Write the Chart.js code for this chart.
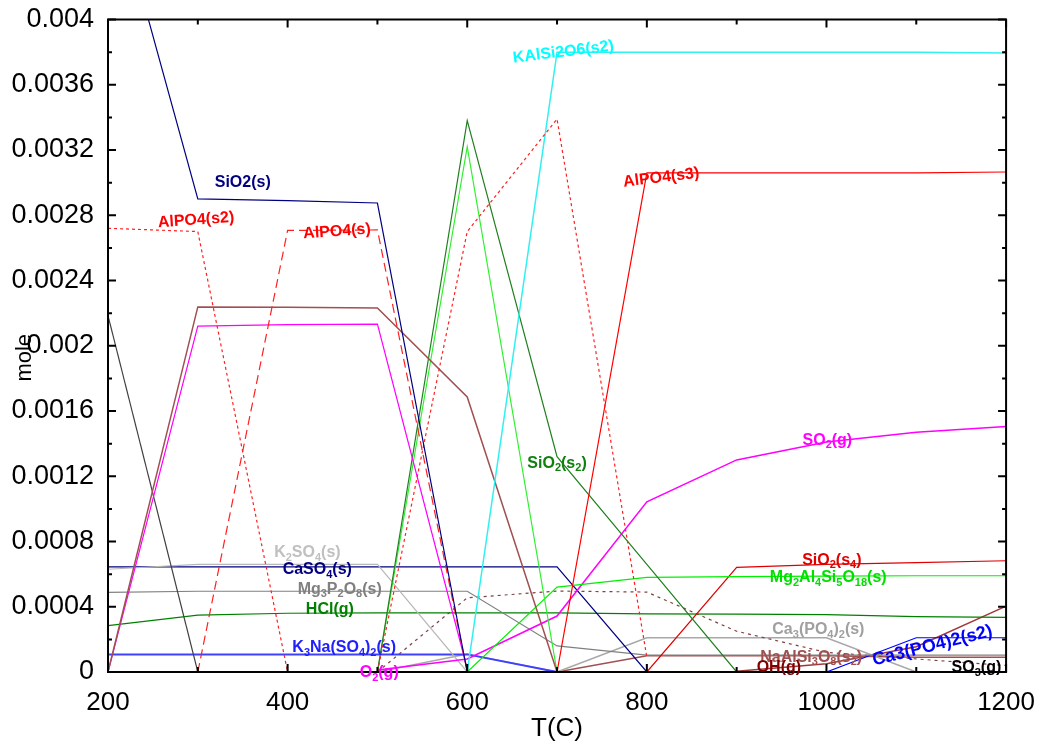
<!DOCTYPE html>
<html>
<head>
<meta charset="utf-8">
<script src="https://cdn.jsdelivr.net/npm/chart.js@4.4.1/dist/chart.umd.min.js"></script>
<style>
  html, body { margin: 0; padding: 0; background: #fff; }
  #chart { display: block; }
</style>
</head>
<body>
<canvas id="chart" width="1045" height="744"></canvas>
<script>
// Temperatures (C)
const temps = [200, 300, 400, 500, 600, 700, 800, 900, 1000, 1100, 1200];

// Amounts (mole), null where the phase is absent
const sio2S       = [0.0049, 0.0029, 0.00289, 0.002875, 0, null, null, null, null, null, null];
const alpo4S2     = [0.00272, 0.0027, 0, 0, 0.0027, 0.00339, 0.00009, null, null, null, null];
const alpo4S      = [null, 0, 0.002707, 0.00271, 0, null, null, null, null, null, null];
const alpo4S3     = [null, null, null, null, null, 0, 0.00306, 0.00306, 0.00306, 0.00306, 0.003065];
const kalsi2o6S2  = [null, null, null, null, 0, 0.0038, 0.0038, 0.0038, 0.0038, 0.0038, 0.003795];
const brownPhase  = [0, 0.002238, 0.002236, 0.002232, 0.001686, 0, null, null, null, null, null];
const pinkPhase   = [0, 0.00212, 0.00213, 0.002132, 0.00002, null, null, null, null, null, null];
const greyPhase   = [0.002185, 0, null, null, null, null, null, null, null, null, null];
const sio2S2      = [null, null, null, 0, 0.00338, 0.00132, 0.00066, 0, null, null, null];
const limePhase   = [null, null, null, 0, 0.00322, 0, null, null, null, null, null];
const mg2al4si5   = [null, null, null, null, 0, 0.00052, 0.00058, 0.000585, 0.000588, 0.00059, 0.00059];
const sio2S4      = [null, null, null, null, null, null, 0, 0.000641, 0.00066, 0.00067, 0.000682];
const so2G        = [null, null, null, 0.000012, 0.00008, 0.000343, 0.001043, 0.0013, 0.00141, 0.00147, 0.001505];
const k2so4S      = [0.00063, 0.00066, 0.00066, 0.00066, 0, null, null, null, null, null, null];
const caso4S      = [0.000645, 0.000645, 0.000645, 0.000645, 0.000645, 0.000645, 0, null, null, null, null];
const mg3p2o8S    = [0.000488, 0.000495, 0.000495, 0.000495, 0.000495, 0.00016, 0.000104, 0.000104, 0.000104, 0.000104, 0.000104];
const hclG        = [0.000284, 0.000349, 0.00036, 0.000363, 0.000363, 0.000363, 0.000356, 0.000355, 0.000352, 0.00034, 0.000335];
const k3naSo4S    = [0.000108, 0.000108, 0.000108, 0.000108, 0.000108, 0, null, null, null, null, null];
const so3G        = [null, null, null, 0, 0.000455, 0.000496, 0.00049, 0.00025, 0.00012, 0.00008, 0.00004];
const ca3po4S     = [null, null, null, 0, 0.00011, 0, 0.00021, 0.00021, 0.00021, 0, null];
const ca3po4S2    = [null, null, null, null, null, null, null, null, 0, 0.00021, 0.00021];
const naalsi3o8S2 = [null, null, null, null, null, 0, 0.0001, 0.0001, 0.0001, 0.00009, 0.00009];
const ohG         = [null, null, null, null, null, null, null, 0.000005, 0.00005, 0.000155, 0.000404];

// Axis tick labels
const xTickLabels = ['200', '400', '600', '800', '1000', '1200'];
const yTickLabels = ['0', '0.0004', '0.0008', '0.0012', '0.0016', '0.002', '0.0024', '0.0028', '0.0032', '0.0036', '0.004'];

// In-plot species labels ("_" marks a subscript)
const speciesLabels = [
  { text: 'SiO2(s)', t: 350, v: 0.0030, color: '#000080' },
  { text: 'AlPO4(s2)', t: 298, v: 0.00277, color: '#FF0000', rot: -4 },
  { text: 'AlPO4(s)', t: 455, v: 0.00270, color: '#FF0000', rot: -4 },
  { text: 'KAlSi2O6(s2)', t: 707, v: 0.0038, color: '#00FFFF', rot: -7 },
  { text: 'AlPO4(s3)', t: 816, v: 0.00303, color: '#FF0000', rot: -7 },
  { text: 'SiO_2(s_2)', t: 700, v: 0.00128, color: '#108010' },
  { text: 'SO_2(g)', t: 1001, v: 0.00142, color: '#FF00FF' },
  { text: 'SiO_2(s_4)', t: 1006, v: 0.000686, color: '#E00000' },
  { text: 'Mg_2Al_4Si_5O_18(s)', t: 1002, v: 0.000576, color: '#00E000' },
  { text: 'K_2SO_4(s)', t: 422, v: 0.00073, color: '#C0C0C0' },
  { text: 'CaSO_4(s)', t: 433, v: 0.000625, color: '#000080' },
  { text: 'Mg_3P_2O_8(s)', t: 458, v: 0.000508, color: '#808080' },
  { text: 'HCl(g)', t: 447, v: 0.00038, color: '#008000' },
  { text: 'K_3Na(SO_4)_2(s)', t: 463, v: 0.000147, color: '#2020FF' },
  { text: 'O_2(g)', t: 502, v: -0.000005, color: '#FF00FF' },
  { text: 'Ca_3(PO_4)_2(s)', t: 991, v: 0.000257, color: '#A0A0A0' },
  { text: 'NaAlSi_3O_8(s_2)', t: 983, v: 0.00009, color: '#A05050' },
  { text: 'Ca3(PO4)2(s2)', t: 1118, v: 0.00016, color: '#0000FF', rot: -14, size: 18 },
  { text: 'OH(g)', t: 947, v: 0.00003, color: '#800000' },
  { text: 'SO_3(g)', t: 1167, v: 0.000025, color: '#000000' }
];

const FONT = "'Liberation Sans', Arial, sans-serif";

function line(label, data, color, dash, width) {
  return {
    label: label,
    data: data.map((v, i) => ({ x: temps[i], y: v })),
    borderColor: color,
    borderWidth: width || 1.2,
    borderDash: dash || [],
    pointRadius: 0,
    tension: 0,
    spanGaps: false,
    fill: false
  };
}

// draws "SiO_2(s_2)" style text centred at x,y
function drawRich(ctx, text, x, y, size) {
  const parts = [];
  const re = /_(\d+)|([^_]+)/g;
  let m;
  while ((m = re.exec(text)) !== null) {
    if (m[1]) parts.push({ s: m[1], sub: true });
    else parts.push({ s: m[2], sub: false });
  }
  const big = 'bold ' + size + 'px ' + FONT;
  const small = 'bold ' + Math.round(size * 0.7) + 'px ' + FONT;
  let w = 0;
  parts.forEach(p => { ctx.font = p.sub ? small : big; p.w = ctx.measureText(p.s).width; w += p.w; });
  let cx = x - w / 2;
  ctx.textAlign = 'left';
  ctx.textBaseline = 'middle';
  parts.forEach(p => {
    ctx.font = p.sub ? small : big;
    ctx.fillText(p.s, cx, p.sub ? y + size * 0.3 : y);
    cx += p.w;
  });
}

const frameAndLabels = {
  id: 'frameAndLabels',
  afterDatasetsDraw(chart) {
    const { ctx, chartArea: a, scales } = chart;
    const xs = scales.x, ys = scales.y;
    ctx.save();
    ctx.strokeStyle = '#000';
    ctx.lineWidth = 2;
    ctx.strokeRect(a.left, a.top, a.right - a.left, a.bottom - a.top);

    // inward ticks, major at scale ticks, minor halfway between
    const xv = xs.ticks.map(t => t.value);
    const yv = ys.ticks.map(t => t.value);
    ctx.beginPath();
    xv.forEach((v, i) => {
      const px = xs.getPixelForValue(v);
      ctx.moveTo(px, a.bottom); ctx.lineTo(px, a.bottom - 8);
      ctx.moveTo(px, a.top); ctx.lineTo(px, a.top + 8);
      if (i < xv.length - 1) {
        const mx = xs.getPixelForValue((v + xv[i + 1]) / 2);
        ctx.moveTo(mx, a.bottom); ctx.lineTo(mx, a.bottom - 5);
        ctx.moveTo(mx, a.top); ctx.lineTo(mx, a.top + 5);
      }
    });
    yv.forEach((v, i) => {
      const py = ys.getPixelForValue(v);
      ctx.moveTo(a.left, py); ctx.lineTo(a.left + 8, py);
      ctx.moveTo(a.right, py); ctx.lineTo(a.right - 8, py);
      if (i < yv.length - 1) {
        const my = ys.getPixelForValue((v + yv[i + 1]) / 2);
        ctx.moveTo(a.left, my); ctx.lineTo(a.left + 4, my);
        ctx.moveTo(a.right, my); ctx.lineTo(a.right - 4, my);
      }
    });
    ctx.stroke();

    // y axis title
    ctx.save();
    ctx.fillStyle = '#000';
    ctx.font = '22px ' + FONT;
    ctx.textAlign = 'center';
    ctx.textBaseline = 'middle';
    ctx.translate(25, (a.top + a.bottom) / 2 + 12);
    ctx.rotate(-Math.PI / 2);
    ctx.fillText('mole', 0, 0);
    ctx.restore();

    // species labels
    speciesLabels.forEach(l => {
      const px = xs.getPixelForValue(l.t);
      const py = ys.getPixelForValue(l.v);
      const size = l.size || 16;
      ctx.fillStyle = l.color;
      if (l.rot) {
        ctx.save();
        ctx.translate(px, py);
        ctx.rotate(l.rot * Math.PI / 180);
        drawRich(ctx, l.text, 0, 0, size);
        ctx.restore();
      } else {
        drawRich(ctx, l.text, px, py, size);
      }
    });
    ctx.restore();
  }
};

const config = {
  type: 'line',
  data: {
    datasets: [
      line('SiO2(s)', sio2S, '#000080'),
      line('AlPO4(s2)', alpo4S2, '#FF2020', [3, 3]),
      line('AlPO4(s)', alpo4S, '#FF2020', [9, 5]),
      line('AlPO4(s3)', alpo4S3, '#FF0000'),
      line('KAlSi2O6(s2)', kalsi2o6S2, '#30F0F0', null, 1.5),
      line('brown', brownPhase, '#A05050', null, 1.5),
      line('pink', pinkPhase, '#FF00FF'),
      line('grey', greyPhase, '#404040'),
      line('SiO2(s2)', sio2S2, '#208020'),
      line('lime', limePhase, '#30F030'),
      line('Mg2Al4Si5O18(s)', mg2al4si5, '#00F000'),
      line('SiO2(s4)', sio2S4, '#E00000'),
      line('SO2(g)', so2G, '#FF00FF', null, 1.5),
      line('K2SO4(s)', k2so4S, '#B8B8B8'),
      line('CaSO4(s)', caso4S, '#000080'),
      line('Mg3P2O8(s)', mg3p2o8S, '#808080'),
      line('HCl(g)', hclG, '#008000'),
      line('K3Na(SO4)2(s)', k3naSo4S, '#4040FF', null, 2),
      line('SO3(g)', so3G, '#804040', [3, 4]),
      line('Ca3(PO4)2(s)', ca3po4S, '#A8A8A8', null, 1.5),
      line('Ca3(PO4)2(s2)', ca3po4S2, '#0000FF'),
      line('NaAlSi3O8(s2)', naalsi3o8S2, '#A05050', null, 1.5),
      line('OH(g)', ohG, '#A03838', null, 1.5)
    ]
  },
  options: {
    responsive: false,
    animation: false,
    devicePixelRatio: 1,
    layout: { padding: { left: 0, right: 37, top: 19, bottom: 0 } },
    plugins: { legend: { display: false }, tooltip: { enabled: false } },
    scales: {
      x: {
        type: 'linear',
        min: 200,
        max: 1200,
        grid: { display: false },
        border: { display: false },
        ticks: {
          stepSize: 200,
          color: '#000',
          padding: 10,
          font: { family: FONT, size: 26, lineHeight: 1 },
          callback: (v) => xTickLabels[Math.round((v - 200) / 200)]
        },
        title: { display: true, text: 'T(C)', color: '#000', padding: { top: 0, bottom: 2 }, font: { family: FONT, size: 26, lineHeight: 1 } },
        afterFit: s => { s.height = 72; }
      },
      y: {
        min: 0,
        max: 0.004,
        grid: { display: false },
        border: { display: false },
        ticks: {
          stepSize: 0.0004,
          color: '#000',
          padding: 6,
          font: { family: FONT, size: 27, lineHeight: 1 },
          callback: (v) => yTickLabels[Math.round(v / 0.0004)]
        },
        afterFit: s => { s.width = 108; }
      }
    }
  },
  plugins: [frameAndLabels]
};

const chart = new Chart(document.getElementById('chart'), config);
</script>
</body>
</html>
